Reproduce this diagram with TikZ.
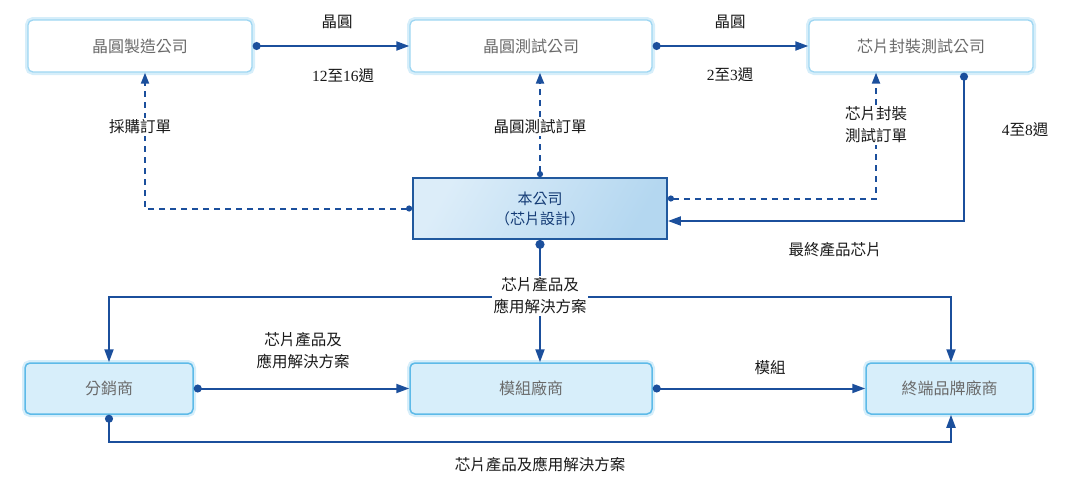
\documentclass[tikz,border=0pt]{standalone}
\usepackage{fontspec}
\setmainfont{Liberation Serif}
\newfontfamily\cjk{Noto Sans CJK TC}
\usetikzlibrary{arrows.meta,calc}
\definecolor{lineblue}{HTML}{1B4F9C}
\definecolor{boxtext}{HTML}{6A6A6A}
\definecolor{topborder}{HTML}{9ED6F2}
\definecolor{glow}{HTML}{D6EEFA}
\definecolor{botfill}{HTML}{D7EEFA}
\definecolor{botborder}{HTML}{5DBAE8}
\definecolor{ctrA}{HTML}{DCEDF9}
\definecolor{ctrB}{HTML}{B4D7F0}
\definecolor{ctrborder}{HTML}{21599E}
\tikzset{
  topbox/.style={draw=topborder, line width=1.3pt, rounded corners=5pt, fill=white,
    preaction={draw=glow, line width=6pt},
    minimum height=52pt, font=\cjk\fontsize{16}{19}\selectfont, text=boxtext},
  botbox/.style={draw=botborder, line width=1.5pt, rounded corners=5pt, fill=botfill,
    preaction={draw=glow, line width=6pt},
    minimum height=51pt, font=\cjk\fontsize{16}{19}\selectfont, text=boxtext},
  ctrbox/.style={draw=ctrborder, line width=1.8pt, shading=axis, left color=ctrA, right color=ctrB,
    shading angle=60, minimum width=254pt, minimum height=61pt, align=center,
    font=\cjk\fontsize{15}{20}\selectfont, text=lineblue!75!black},
  lbl/.style={font=\cjk\fontsize{15.5}{22}\selectfont, text=black!90, fill=white, inner sep=1.5pt, align=center},
  conn/.style={draw=lineblue, line width=2pt},
  flow/.style={conn, {Circle[length=8pt]}-{Triangle[length=13pt,width=9pt]}},
  flowend/.style={conn, -{Triangle[length=13pt,width=9pt]}},
  order/.style={conn, dash pattern=on 6pt off 5pt, {Circle[length=6pt]}-{Triangle[length=11pt,width=8pt]}},
}
\begin{document}
\begin{tikzpicture}[x=1pt,y=-1pt]
\useasboundingbox (0,0) rectangle (1080,483);
% top boxes
\node[topbox, minimum width=224pt] (fab) at (140,46) {晶圓製造公司};
\node[topbox, minimum width=242pt] (test) at (531,46) {晶圓測試公司};
\node[topbox, minimum width=224pt] (pkg) at (921,46) {芯片封裝測試公司};
% center
\node[ctrbox] (co) at (540,208.5) {本公司\\（芯片設計）};
% bottom boxes
\node[botbox, minimum width=168pt] (dist) at (109,388.5) {分銷商};
\node[botbox, minimum width=242pt] (mod) at (531,388.5) {模組廠商};
\node[botbox, minimum width=167pt] (brand) at (949.5,388.5) {終端品牌廠商};

% top flows
\draw[flow] (fab.east) -- (test.west);
\node[lbl] (l1) at (337,22) {晶圓};
\node[lbl] (l2) at (343,76) {{\rmfamily 12}至{\rmfamily 16}週};
\draw[flow] (test.east) -- (pkg.west);
\node[lbl] (l3) at (730,22) {晶圓};
\node[lbl] (l4) at (730,75) {{\rmfamily 2}至{\rmfamily 3}週};

% orders (dashed)
\draw[order] (co.west) -| ([xshift=5pt]fab.south);
\node[lbl] (o1) at (140,127) {採購訂單};
\draw[order] (co.north) -- ([xshift=9pt]test.south);
\node[lbl] (o2) at (540,127) {晶圓測試訂單};
\coordinate (pkgin) at ([xshift=-45pt]pkg.south);
\draw[order] ([yshift=10pt]co.east) -| (pkgin);
\node[lbl] (o3) at (876,125) {芯片封裝\\測試訂單};

% final chips
\coordinate (pkgout) at ([xshift=43pt]pkg.south);
\draw[flow] (pkgout) |- ([yshift=-12.5pt]co.east);
\node[lbl] (w3) at (1025,130) {{\rmfamily 4}至{\rmfamily 8}週};
\node[lbl] (fin) at (835,250) {最終產品芯片};

% distribution from company
\coordinate (br) at (540,297);
\draw[conn, {Circle[length=9pt]}-] (co.south) -- (br);
\draw[flowend] (br) -- (mod.north -| br);
\draw[flowend] (br) -| (dist.north);
\draw[flowend] (br) -| ([xshift=1.5pt]brand.north);
\node[lbl] (cp) at (540,296) {芯片產品及\\應用解決方案};

% bottom flows
\draw[flow] (dist.east) -- (mod.west);
\node[lbl] (b1) at (303,351) {芯片產品及\\應用解決方案};
\draw[flow] (mod.east) -- (brand.west);
\node[lbl] (b2) at (770,368) {模組};
\draw[flow] (dist.south) -- (109,442) -| ([xshift=1.5pt]brand.south);
\node[lbl] (b3) at (540,465) {芯片產品及應用解決方案};
\end{tikzpicture}
\end{document}
